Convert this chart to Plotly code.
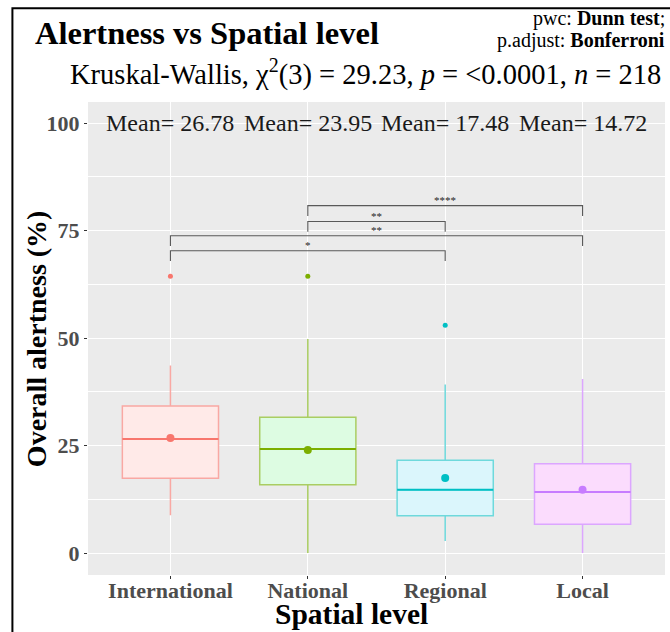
import plotly.graph_objects as go

# Spatial levels and summary statistics of overall alertness (%)
levels = ["International", "National", "Regional", "Local"]
q1 = [17.4, 15.9, 8.7, 6.7]
median = [26.5, 24.2, 14.7, 14.2]
q3 = [34.2, 31.6, 21.6, 20.8]
lower_whisker = [8.8, 0.0, 2.8, 0.0]
upper_whisker = [43.6, 49.8, 39.2, 40.5]
means = [26.78, 23.95, 17.48, 14.72]
outliers = [[64.4], [64.4], [53.0], []]

# Pairwise Dunn test results (Bonferroni adjusted)
pair_group1 = ["International", "International", "National", "National"]
pair_group2 = ["Regional", "Local", "Regional", "Local"]
pair_ypos = [70.3, 73.8, 77.1, 80.8]
pair_labels = ["*", "**", "**", "****"]

line_colors = ["#F8766D", "#7CAE00", "#00BFC4", "#C77CFF"]
edge_colors = ["#F9A8A3", "#AACD62", "#6ED9DC", "#DCA6FF"]
fill_colors = ["#FFEAE8", "#DDFCE2", "#DBF6FC", "#FBDCFD"]

SERIF = "Liberation Serif"
BOX_W = 0.7
pos = {name: i + 1 for i, name in enumerate(levels)}

fig = go.Figure()

for i, name in enumerate(levels):
    x = pos[name]
    fig.add_trace(go.Box(
        x=[x], q1=[q1[i]], median=[median[i]], q3=[q3[i]],
        lowerfence=[lower_whisker[i]], upperfence=[upper_whisker[i]],
        width=BOX_W, fillcolor=fill_colors[i],
        line=dict(color=edge_colors[i], width=1.5),
        whiskerwidth=0, boxpoints=False, showlegend=False, hoverinfo="skip",
    ))
    # median line drawn in the full group colour
    fig.add_trace(go.Scatter(
        x=[x - BOX_W / 2, x + BOX_W / 2], y=[median[i], median[i]],
        mode="lines", line=dict(color=line_colors[i], width=2),
        showlegend=False, hoverinfo="skip",
    ))
    # group mean
    fig.add_trace(go.Scatter(
        x=[x], y=[means[i]], mode="markers",
        marker=dict(color=line_colors[i], size=8),
        showlegend=False, hoverinfo="skip",
    ))
    if outliers[i]:
        fig.add_trace(go.Scatter(
            x=[x] * len(outliers[i]), y=outliers[i], mode="markers",
            marker=dict(color=line_colors[i], size=5),
            showlegend=False, hoverinfo="skip",
        ))
    fig.add_annotation(
        x=x, y=100, text=f"Mean= {means[i]:.2f}", showarrow=False,
        font=dict(family=SERIF, size=24, color="#1A1A1A"),
        xanchor="center", yanchor="middle",
    )

# significance brackets
TIP = 2.4
for g1, g2, yv, lab in zip(pair_group1, pair_group2, pair_ypos, pair_labels):
    x1, x2 = pos[g1], pos[g2]
    fig.add_trace(go.Scatter(
        x=[x1, x1, x2, x2], y=[yv - TIP, yv, yv, yv - TIP],
        mode="lines", line=dict(color="#595959", width=1.1),
        showlegend=False, hoverinfo="skip",
    ))
    fig.add_annotation(
        x=(x1 + x2) / 2, y=yv, text=lab, showarrow=False,
        font=dict(family=SERIF, size=11, color="#262626"),
        xanchor="center", yanchor="bottom", yshift=-2,
    )

# titles
fig.add_annotation(
    xref="paper", yref="paper", x=-0.0953, y=1.146, text="<b>Alertness vs Spatial level</b>",
    showarrow=False, xanchor="left", yanchor="middle",
    font=dict(family=SERIF, size=32.5, color="black"),
)
fig.add_annotation(
    xref="paper", yref="paper", x=0.997, y=1.063,
    text="Kruskal-Wallis, χ<sup>2</sup>(3) = 29.23, <i>p</i> = &lt;0.0001, <i>n</i> = 218",
    showarrow=False, xanchor="right", yanchor="middle",
    font=dict(family=SERIF, size=28.5, color="black"),
)
fig.add_annotation(
    xref="paper", yref="paper", x=1.004, y=1.177,
    text="pwc: <b>Dunn test</b>;", showarrow=False, xanchor="right", yanchor="middle",
    font=dict(family=SERIF, size=20, color="black"),
)
fig.add_annotation(
    xref="paper", yref="paper", x=1.004, y=1.131,
    text="p.adjust: <b>Bonferroni</b>", showarrow=False, xanchor="right", yanchor="middle",
    font=dict(family=SERIF, size=20, color="black"),
)
# axis titles
fig.add_annotation(
    xref="paper", yref="paper", x=-0.089, y=0.5, text="<b>Overall alertness (%)</b>",
    showarrow=False, textangle=-90, xanchor="center", yanchor="middle",
    font=dict(family=SERIF, size=28, color="black"),
)
fig.add_annotation(
    xref="paper", yref="paper", x=0.4575, y=-0.083, text="<b>Spatial level</b>",
    showarrow=False, xanchor="center", yanchor="middle",
    font=dict(family=SERIF, size=29.5, color="black"),
)

# outer frame
fig.add_shape(
    type="rect", xref="paper", yref="paper", x0=-0.131, x1=1.2, y0=-0.3, y1=1.198,
    line=dict(color="black", width=2), fillcolor="rgba(0,0,0,0)", layer="above",
)

fig.update_layout(
    width=670, height=632,
    margin=dict(l=88, r=5, t=102, b=57),
    paper_bgcolor="white", plot_bgcolor="#EBEBEB",
    showlegend=False,
    xaxis=dict(
        range=[0.4, 4.6], tickmode="array", tickvals=[1, 2, 3, 4], ticktext=levels,
        showgrid=True, gridcolor="white", gridwidth=1.2, zeroline=False,
        ticks="outside", ticklen=3, tickcolor="#333333", ticklabelstandoff=-7,
        tickfont=dict(family=SERIF, size=22, color="#4D4D4D", weight="bold"),
    ),
    yaxis=dict(
        range=[-5.1, 104.9], tickmode="array", tickvals=[0, 25, 50, 75, 100],
        showgrid=True, gridcolor="white", gridwidth=1.2, zeroline=False,
        ticks="outside", ticklen=3, tickcolor="#333333",
        tickfont=dict(family=SERIF, size=22, color="#4D4D4D", weight="bold"),
        minor=dict(tickvals=[12.5, 37.5, 62.5, 87.5], showgrid=True,
                   gridcolor="white", gridwidth=0.5, ticks=""),
    ),
)

fig.write_html("out.html")
